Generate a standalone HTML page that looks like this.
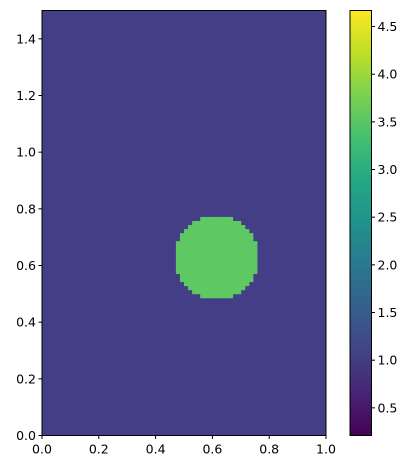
<!DOCTYPE html>
<html><head><meta charset="utf-8"><style>
body{margin:0;background:#fff;}
svg text{font-family:"DejaVu Sans","Liberation Sans",sans-serif;font-size:12.5px;fill:#000;}
</style></head><body>
<svg id="chart" width="412" height="470">
<defs>
<linearGradient id="vir" x1="0" y1="1" x2="0" y2="0">
<stop offset="0" stop-color="#440154"/><stop offset="0.1" stop-color="#482475"/>
<stop offset="0.2" stop-color="#414487"/><stop offset="0.3" stop-color="#355f8d"/>
<stop offset="0.4" stop-color="#2a788e"/><stop offset="0.5" stop-color="#21918c"/>
<stop offset="0.6" stop-color="#22a884"/><stop offset="0.7" stop-color="#44bf70"/>
<stop offset="0.8" stop-color="#7ad151"/><stop offset="0.9" stop-color="#bddf26"/>
<stop offset="1" stop-color="#fde725"/>
</linearGradient>
</defs>
<g id="plot"></g>
<g id="axes"></g>
</svg>
<script>
const xTicks=[0,0.2,0.4,0.6,0.8,1.0];
const yTicks=[0,0.2,0.4,0.6,0.8,1.0,1.2,1.4];
const cbTicks=[0.5,1.0,1.5,2.0,2.5,3.0,3.5,4.0,4.5];
const gridSize=[70,105];
const circleCenter=[0.614,0.628];
const circleRadius=[0.146];
const fieldValues=[1.0,3.7];
const colorRange=[0.21,4.668];

const NS="http://www.w3.org/2000/svg";
const X0=42,X1=326,Y0=435.5,Y1=10.5;
const sx=v=>X0+v*(X1-X0);
const sy=v=>Y0-v/1.5*(Y0-Y1);
const CB0=350,CB1=371.5;
const cy=v=>Y0-(v-colorRange[0])/(colorRange[1]-colorRange[0])*(Y0-Y1);
function mk(t,a,p){const e=document.createElementNS(NS,t);for(const k in a)e.setAttribute(k,a[k]);(p||svg).appendChild(e);return e;}
const svg=document.getElementById('chart');
const plot=document.getElementById('plot');
const axes=document.getElementById('axes');
function col(v){const t=(v-colorRange[0])/(colorRange[1]-colorRange[0]);return t<0.5?'#433e85':'#5ec962';}
const bg=mk('rect',{x:X0,y:Y1,width:X1-X0,height:Y0-Y1,fill:col(fieldValues[0])},plot);


const nx=gridSize[0],ny=gridSize[1],dx=1/nx,dy=1.5/ny;
for(let j=0;j<ny;j++)for(let i=0;i<nx;i++){
 const xc=(i+0.5)*dx,yc=(j+0.5)*dy;
 if((xc-circleCenter[0])**2+(yc-circleCenter[1])**2<=circleRadius[0]**2){
  const r=mk('rect',{x:sx(i*dx),y:sy((j+1)*dy),width:sx(dx)-sx(0)+0.4,height:sy(0)-sy(dy)+0.4,fill:col(fieldValues[1])},plot);
  
  
 }
}
const fr=mk('rect',{x:X0,y:Y1,width:X1-X0,height:Y0-Y1,fill:'none',stroke:'#000','stroke-width':1},axes);


xTicks.forEach(v=>{const x=sx(v);mk('line',{x1:x,x2:x,y1:Y0,y2:Y0+3.5,stroke:'#000'},axes);
 const t=mk('text',{x:x,y:Y0+18,'text-anchor':'middle'},axes);t.textContent=v.toFixed(1);
 
 });
yTicks.forEach(v=>{const y=sy(v);mk('line',{x1:X0-3.5,x2:X0,y1:y,y2:y,stroke:'#000'},axes);
 const t=mk('text',{x:X0-6,y:y+4.5,'text-anchor':'end'},axes);t.textContent=v.toFixed(1);
 
 });
const cb=mk('rect',{x:CB0,y:Y1,width:CB1-CB0,height:Y0-Y1,fill:'url(#vir)',stroke:'#000','stroke-width':1},axes);


cbTicks.forEach(v=>{const y=cy(v);mk('line',{x1:CB1,x2:CB1+3.5,y1:y,y2:y,stroke:'#000'},axes);
 const t=mk('text',{x:CB1+6,y:y+4.5},axes);t.textContent=v.toFixed(1);
 
 });
</script>
</body></html>
